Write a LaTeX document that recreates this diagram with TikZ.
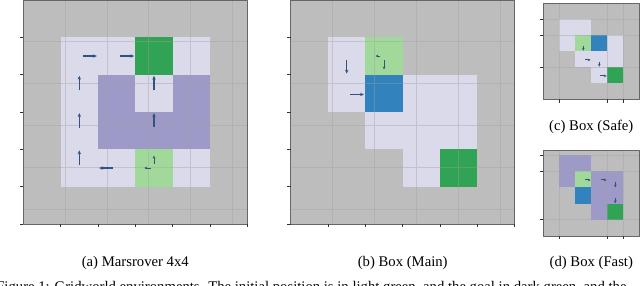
\documentclass[tikz,border=0pt]{standalone}
\usepackage{fontspec}
\setmainfont{Liberation Serif}
\usepackage{xcolor}
\usepackage{tikz}
\usetikzlibrary{arrows.meta}

\definecolor{bggray}{HTML}{BDBDBD}
\definecolor{lav}{HTML}{DADAEB}
\definecolor{purp}{HTML}{9E9AC8}
\definecolor{lgreen}{HTML}{A1D99B}
\definecolor{dgreen}{HTML}{31A354}
\definecolor{wblue}{HTML}{3182BD}
\definecolor{qblue}{HTML}{34527F}
\definecolor{gline}{HTML}{A0A0A0}

\begin{document}
\begin{tikzpicture}[x=0.68pt,y=-0.68pt,>=Stealth,line join=round,
  gridln/.style={gline,draw opacity=0.4,line width=0.5pt},
  frameln/.style={black!60,line width=0.55pt},
  tickln/.style={black!80,line width=0.45pt},
  qarrow/.style={-{Stealth[length=2.6pt,width=2.3pt]},qblue,line width=0.8pt},
  qsmall/.style={-{Stealth[length=2pt,width=1.9pt]},qblue,line width=0.65pt},
  capt/.style={anchor=base,inner sep=0pt,font=\fontsize{10}{12}\selectfont}]
  \clip (0,0) rectangle (640,286);

  % (a) marsrover
  \begin{scope}[shift={(23.3,0)},x=25.39pt,y=-25.39pt]
    \fill[bggray] (0,0) rectangle (6,6);
    \fill[lav] (1,1) rectangle (3,2);
    \fill[dgreen] (3,1) rectangle (4,2);
    \fill[lav] (4,1) rectangle (5,2);
    \fill[lav] (1,2) rectangle (2,5);
    \fill[purp] (2,2) rectangle (3,4);
    \fill[lav] (3,2) rectangle (4,3);
    \fill[purp] (4,2) rectangle (5,4);
    \fill[purp] (3,3) rectangle (4,4);
    \fill[lav] (2,4) rectangle (3,5);
    \fill[lgreen] (3,4) rectangle (4,5);
    \fill[lav] (4,4) rectangle (5,5);
    \draw[gridln] (0,0) grid (6,6);
    \draw[frameln] (0,0) rectangle (6,6);
    \draw[tickln] (0,1) -- ++(-2.2pt,0) (0,2) -- ++(-2.2pt,0) (0,3) -- ++(-2.2pt,0)
      (0,4) -- ++(-2.2pt,0) (0,5) -- ++(-2.2pt,0) (0,6) -- ++(-2.2pt,0);
    \draw[tickln] (1,6) -- ++(0,-2.2pt) (2,6) -- ++(0,-2.2pt) (3,6) -- ++(0,-2.2pt)
      (4,6) -- ++(0,-2.2pt) (5,6) -- ++(0,-2.2pt) (6,6) -- ++(0,-2.2pt);
    \draw[qarrow] (1.6,1.5) -- (1.97,1.5);
    \draw[qarrow] (2.6,1.5) -- (2.97,1.5);
    \draw[qarrow] (1.5,2.42) -- (1.5,2.03);
    \draw[qarrow] (3.5,2.42) -- (3.5,2.03);
    \draw[qarrow] (1.5,3.42) -- (1.5,3.03);
    \draw[qarrow] (3.5,3.4) -- (3.5,3.03);
    \draw[qarrow] (1.5,4.42) -- (1.5,4.03);
    \draw[qarrow] (2.4,4.5) -- (2.03,4.5);
    \draw[qsmall] (3.5,4.38) -- (3.5,4.17);
    \draw[qsmall] (3.42,4.5) -- (3.24,4.5);
  \end{scope}

  % (b) box main
  \begin{scope}[shift={(290.7,0)},x=25.39pt,y=-25.39pt]
    \fill[bggray] (0,0) rectangle (6,6);
    \fill[lav] (1,1) rectangle (2,3);
    \fill[lgreen] (2,1) rectangle (3,2);
    \fill[wblue] (2,2) rectangle (3,3);
    \fill[lav] (3,2) rectangle (5,4);
    \fill[lav] (2,3) rectangle (3,4);
    \fill[lav] (3,4) rectangle (4,5);
    \fill[dgreen] (4,4) rectangle (5,5);
    \draw[gridln] (0,0) grid (6,6);
    \draw[frameln] (0,0) rectangle (6,6);
    \draw[tickln] (0,1) -- ++(-2.2pt,0) (0,2) -- ++(-2.2pt,0) (0,3) -- ++(-2.2pt,0)
      (0,4) -- ++(-2.2pt,0) (0,5) -- ++(-2.2pt,0) (0,6) -- ++(-2.2pt,0);
    \draw[tickln] (1,6) -- ++(0,-2.2pt) (2,6) -- ++(0,-2.2pt) (3,6) -- ++(0,-2.2pt)
      (4,6) -- ++(0,-2.2pt) (5,6) -- ++(0,-2.2pt) (6,6) -- ++(0,-2.2pt);
    \draw[qarrow] (1.5,1.62) -- (1.5,1.97);
    \draw[qarrow] (1.6,2.53) -- (1.96,2.53);
    \draw[qsmall] (2.4,1.5) -- (2.27,1.5);
    \draw[qsmall] (2.5,1.62) -- (2.5,1.86);
  \end{scope}

  % (c) box safe
  \begin{scope}[shift={(543.3,3.3)},x=10.88pt,y=-10.88pt]
    \fill[bggray] (0,0) rectangle (6,6);
    \fill[lav] (1,1) rectangle (3,2);
    \fill[lav] (1,2) rectangle (2,3);
    \fill[lgreen] (2,2) rectangle (3,3);
    \fill[wblue] (3,2) rectangle (4,3);
    \fill[lav] (4,2) rectangle (5,4);
    \fill[lav] (2,3) rectangle (4,4);
    \fill[lav] (3,4) rectangle (4,5);
    \fill[dgreen] (4,4) rectangle (5,5);
    \draw[gridln] (1,0) -- (1,6) (4,0) -- (4,6) (5,0) -- (5,6)
      (0,1) -- (6,1) (0,2) -- (6,2) (0,4) -- (6,4);
    \draw[frameln] (0,0) rectangle (6,6);
    \draw[tickln] (0,1) -- ++(-2.2pt,0) (0,2) -- ++(-2.2pt,0) (0,4) -- ++(-2.2pt,0);
    \draw[tickln] (1,6) -- ++(0,-2.2pt) (4,6) -- ++(0,-2.2pt) (5,6) -- ++(0,-2.2pt);
    \draw[qsmall] (2.5,2.68) -- (2.5,2.96);
    \draw[qsmall] (2.6,3.54) -- (2.96,3.54);
    \draw[qsmall] (3.5,3.64) -- (3.5,3.96);
    \draw[qsmall] (3.56,4.54) -- (3.96,4.54);
  \end{scope}

  % (d) box fast
  \begin{scope}[shift={(543.3,155)},x=10.88pt,y=-11.02pt]
    \fill[bggray] (0,-0.31) rectangle (6,5);
    \fill[purp] (1,0) rectangle (3,1);
    \fill[purp] (1,1) rectangle (2,2);
    \fill[lgreen] (2,1) rectangle (3,2);
    \fill[wblue] (2,2) rectangle (3,3);
    \fill[purp] (3,1) rectangle (5,3);
    \fill[purp] (3,3) rectangle (4,4);
    \fill[dgreen] (4,3) rectangle (5,4);
    \draw[gridln] (1,-0.31) -- (1,5) (4,-0.31) -- (4,5) (5,-0.31) -- (5,5)
      (0,0) -- (6,0) (0,1) -- (6,1) (0,4) -- (6,4);
    \draw[frameln] (0,-0.31) rectangle (6,5);
    \draw[tickln] (0,0) -- ++(-2.2pt,0) (0,1) -- ++(-2.2pt,0) (0,4) -- ++(-2.2pt,0);
    \draw[tickln] (1,5) -- ++(0,-2.2pt) (4,5) -- ++(0,-2.2pt) (5,5) -- ++(0,-2.2pt);
    \draw[qsmall] (2.6,1.54) -- (2.96,1.54);
    \draw[qsmall] (3.58,1.54) -- (3.96,1.54);
    \draw[qsmall] (4.5,1.64) -- (4.5,2.0);
    \draw[qsmall] (4.5,2.64) -- (4.5,2.98);
  \end{scope}

  \node[capt] (capA) at (135.3,266.5) {(a) Marsrover 4x4};
  \node[capt] (capB) at (402.7,266.5) {(b) Box (Main)};
  \node[capt] (capC) at (591.3,131) {(c) Box (Safe)};
  \node[capt] (capD) at (591.3,266.5) {(d) Box (Fast)};
  \node[capt,anchor=base west] (figcap) at (-4,291)
    {Figure 1: Gridworld environments. The initial position is in light green, and the goal in dark green, and the};
\end{tikzpicture}
\end{document}
